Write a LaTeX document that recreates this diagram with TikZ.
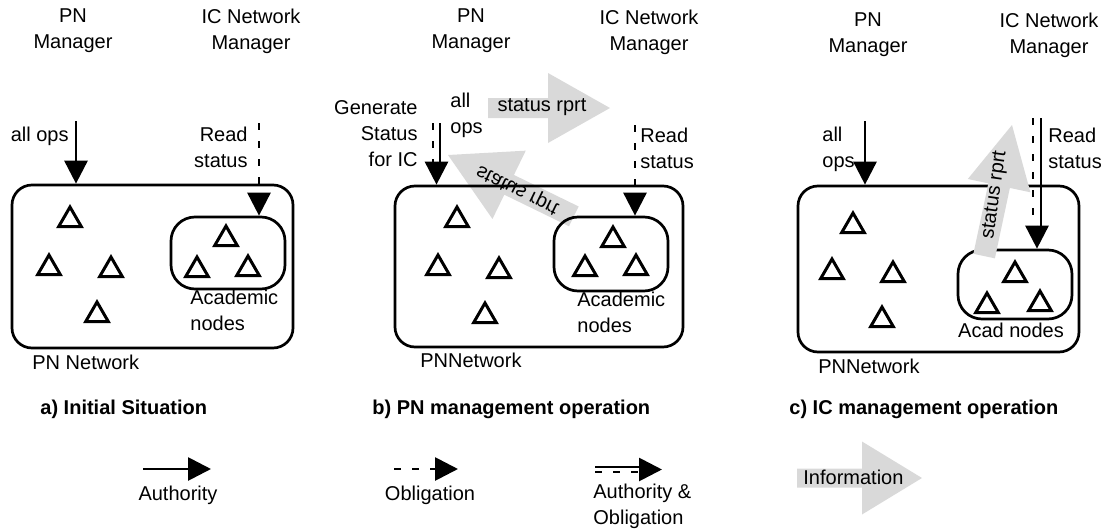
\documentclass[tikz,border=0pt]{standalone}
\usepackage{fontspec}
\setmainfont{Liberation Sans}
\usetikzlibrary{arrows.meta,shapes.geometric,calc}
\definecolor{infogray}{RGB}{217,217,217}

\tikzset{
  lbl/.style={font=\fontsize{10}{13}\selectfont, inner sep=0pt},
  capt/.style={font=\fontsize{10}{13}\selectfont\bfseries, inner sep=0pt, anchor=west},
  netbox/.style={draw, line width=1.35pt, rounded corners=10pt, inner sep=0pt},
  subbox/.style={draw, line width=1.35pt, rounded corners=12pt, inner sep=0pt, minimum width=57pt},
  pnode/.style={draw, line width=1.5pt, regular polygon, regular polygon sides=3,
                minimum size=13pt, inner sep=0pt},
  tiphead/.style={-{Triangle[length=11.5pt,width=11.5pt]}},
  authline/.style={line width=1.4pt},
  oblline/.style={line width=1.4pt, dash pattern=on 3.5pt off 5.5pt},
  authority/.style={authline, tiphead},
  obligation/.style={oblline, tiphead},
}

% grey information arrow: tip x, tip y, direction, body length,
% head length, body half width, head half width
\newcommand\infoarrow[7]{%
  \begin{scope}[shift={(#1,#2)}, rotate=#3]
    \fill[infogray] (0,0) -- (-#5,#7) -- (-#5,#6) -- ({-#5-#4},#6)
      -- ({-#5-#4},-#6) -- (-#5,-#6) -- (-#5,-#7) -- cycle;
  \end{scope}}

\begin{document}
\begin{tikzpicture}[x=0.5pt, y=-0.5pt]
\useasboundingbox (0,0) rectangle (1105,531);

% ---------------- a) initial situation ----------------
\node[netbox, minimum width=140.5pt, minimum height=81.5pt] (a-pn) at (152.5,266.5) {};
\node[subbox, minimum height=36pt] (a-ac) at (228,253) {};
\foreach \p [count=\i] in {(70,220),(49,268),(111,270),(97,315),(226,239),(197,270),(248,269)}
  \node[pnode] (a-n\i) at \p {};

\node[lbl, align=center] (a-pnm) at (73,31) {PN\\Manager};
\node[lbl, align=center] (a-icm) at (251,31) {IC Network\\Manager};
\coordinate (a-ops) at (76,121);
\coordinate (a-rd) at (259,123);
\draw[authority] (a-ops) -- (a-ops |- a-pn.north);
\draw[obligation] (a-rd) -- (a-rd |- a-ac.north);
\node[lbl, anchor=east] (a-opsl) at (69,136) {all ops};
\node[lbl, anchor=east, align=right] (a-rdl) at (248,147.5) {Read\\status};
\node[lbl, anchor=west, align=left] (a-acl) at (190,310.5) {Academic\\nodes};
\node[lbl, anchor=west] (a-pnl) at (32,362) {PN Network};
\node[capt] (a-cap) at (40,409) {a) Initial Situation};

% ---------------- b) PN management operation ----------------
\infoarrow{610}{108}{0}{60}{62}{10}{35}
\infoarrow{448}{155}{154}{72}{68}{11}{38}
\node[netbox, minimum width=144pt, minimum height=80.5pt] (b-pn) at (539,266.5) {};
\node[subbox, minimum height=37pt] (b-ac) at (611,254) {};
\foreach \p [count=\i] in {(457,220),(438,268),(499,271),(485,316),(613,240),(585,269),(636,268)}
  \node[pnode] (b-n\i) at \p {};

\node[lbl] (b-rprt1) at (542,107) {status rprt};
\node[lbl, rotate=-26, yscale=-1] (b-rprt2) at (518,189) {status rprt};

\node[lbl, align=center] (b-pnm) at (471,31) {PN\\Manager};
\node[lbl, align=center] (b-icm) at (649,32) {IC Network\\Manager};
\coordinate (b-ops) at (440,123);
\coordinate (b-gen) at (433,123);
\coordinate (b-hx) at (436.5,0);
\coordinate (b-rd) at (635,125);
\draw[authline] (b-ops) -- ($(b-ops |- b-pn.north)+(0,-21)$);
\draw[oblline] (b-gen) -- ($(b-gen |- b-pn.north)+(0,-21)$);
\draw[authority] ($(b-hx |- b-pn.north)+(0,-23)$) -- (b-hx |- b-pn.north);
\draw[obligation] (b-rd) -- (b-rd |- b-ac.north);
\node[lbl, anchor=east, align=right] (b-genl) at (418,134) {Generate\\Status\\for IC};
\node[lbl, anchor=west, align=left] (b-opsl) at (450,115) {all\\ops};
\node[lbl, anchor=west, align=left] (b-rdl) at (640,148.5) {Read\\status};
\node[lbl, anchor=west, align=left] (b-acl) at (577,312) {Academic\\nodes};
\node[lbl, anchor=west] (b-pnl) at (420,360) {PNNetwork};
\node[capt] (b-cap) at (372,409) {b) PN management operation};

% ---------------- c) IC management operation ----------------
\node[netbox, minimum width=140.5pt, minimum height=83pt] (c-pn) at (938.5,269) {};
\node[subbox, minimum height=34.5pt] (c-ac) at (1015,284.5) {};
\foreach \p [count=\i] in {(853,226),(832,272),(893,275),(882,320),(1015,275),(987,306),(1040,304)}
  \node[pnode] (c-n\i) at \p {};

\infoarrow{1012}{125}{78}{72}{62}{11}{32}
\node[lbl, rotate=82] (c-rprt) at (995,195) {status rprt};

\node[lbl, align=center] (c-pnm) at (868,35) {PN\\Manager};
\node[lbl, align=center] (c-icm) at (1049,35) {IC Network\\Manager};
\coordinate (c-ops) at (865,121);
\coordinate (c-rd) at (1041,118);
\coordinate (c-rdo) at (1033,118);
\coordinate (c-hx) at (1037,0);
\draw[authority] (c-ops) -- (c-ops |- c-pn.north);
\draw[authline] (c-rd) -- ($(c-rd |- c-ac.north)+(0,-21)$);
\draw[oblline] (c-rdo) -- ($(c-rdo |- c-ac.north)+(0,-21)$);
\draw[authority] ($(c-hx |- c-ac.north)+(0,-23)$) -- (c-hx |- c-ac.north);
\node[lbl, anchor=west, align=left] (c-opsl) at (822,149) {all\\ops};
\node[lbl, anchor=west, align=left] (c-rdl) at (1048,148) {Read\\status};
\node[lbl] (c-acl) at (1011,330) {Acad nodes};
\node[lbl, anchor=west] (c-pnl) at (818,366) {PNNetwork};
\node[capt] (c-cap) at (789,409) {c) IC management operation};

% ---------------- legend ----------------
\coordinate (lg-a1) at (143,469);
\coordinate (lg-a2) at (211,469);
\draw[authority] (lg-a1) -- (lg-a2);
\node[lbl] (lg-al) at (178,495) {Authority};

\coordinate (lg-o1) at (394,469);
\coordinate (lg-o2) at (458,469);
\draw[obligation] (lg-o1) -- (lg-o2);
\node[lbl] (lg-ol) at (430,495) {Obligation};

\coordinate (lg-b1) at (595,467);
\coordinate (lg-b2) at (595,472);
\coordinate (lg-bt) at (662,469.5);
\draw[authline] (lg-b1) -- ($(lg-b1 -| lg-bt)+(-21,0)$);
\draw[oblline] (lg-b2) -- ($(lg-b2 -| lg-bt)+(-21,0)$);
\draw[authority] ($(lg-bt)+(-23,0)$) -- (lg-bt);
\node[lbl, anchor=west, align=left] (lg-bl) at (593,506) {Authority \&\\Obligation};

\infoarrow{922}{478}{0}{65}{60}{9.5}{36.5}
\node[lbl, anchor=west] (lg-il) at (803,477) {Information};
\end{tikzpicture}
\end{document}
